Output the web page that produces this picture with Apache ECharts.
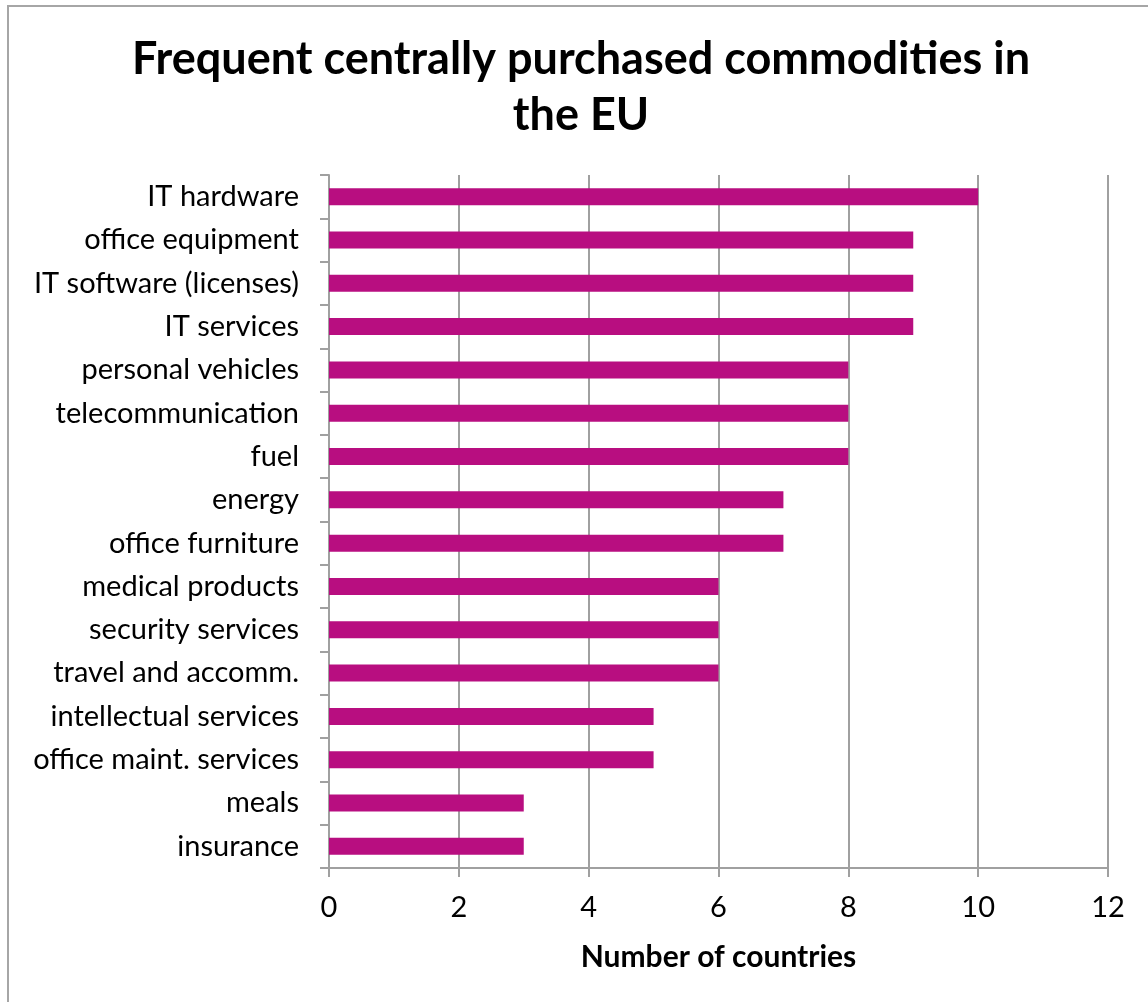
<!DOCTYPE html>
<html>
<head>
<meta charset="utf-8">
<script src="https://cdn.jsdelivr.net/npm/echarts@6/dist/echarts.min.js"></script>
<style>
html,body{margin:0;padding:0;background:#fff;}
#chart{width:1148px;height:1002px;}
</style>
</head>
<body>
<div id="chart"></div>
<script>
const categories = ["IT hardware","office equipment","IT software (licenses)","IT services","personal vehicles","telecommunication","fuel","energy","office furniture","medical products","security services","travel and accomm.","intellectual services","office maint. services","meals","insurance"];
const values = [10,9,9,9,8,8,8,7,7,6,6,6,5,5,3,3];
const titleText = "Frequent centrally purchased commodities in\nthe EU";
const xAxisName = "Number of countries";

const FONT = "Lato";
const chart = echarts.init(document.getElementById('chart'));
chart.setOption({
  animation: false,
  backgroundColor: '#fff',
  graphic: [{
    type: 'rect', shape: {x: 8, y: 6, width: 1300, height: 1200},
    style: {fill: 'none', stroke: '#A6A6A6', lineWidth: 2}, silent: true
  }],
  title: {
    text: titleText, left: 576, top: 26, textAlign: 'center',
    textStyle: {fontFamily: FONT, fontWeight: 'bold', fontSize: 45, lineHeight: 56, color: '#000'}
  },
  grid: {left: 329, right: 40, top: 175, bottom: 134, containLabel: false},
  xAxis: {
    type: 'value', min: 0, max: 12, interval: 2,
    name: xAxisName, nameLocation: 'middle', nameGap: 74,
    nameTextStyle: {fontFamily: FONT, fontWeight: 'bold', fontSize: 30, color: '#000'},
    axisLine: {show: true, lineStyle: {color: '#A0A0A0', width: 2}},
    axisTick: {show: true, length: 9, lineStyle: {color: '#A0A0A0', width: 2}},
    axisLabel: {fontFamily: FONT, fontSize: 29, color: '#000', margin: 25},
    splitLine: {show: true, lineStyle: {color: '#A0A0A0', width: 2}}
  },
  yAxis: {
    type: 'category', data: categories, inverse: true,
    axisLine: {show: true, lineStyle: {color: '#A0A0A0', width: 2}},
    axisTick: {show: true, length: 9, alignWithLabel: false, lineStyle: {color: '#A0A0A0', width: 2}},
    axisLabel: {fontFamily: FONT, fontSize: 29, color: '#000', margin: 30}
  },
  series: [{
    type: 'bar', data: values, barWidth: 17,
    itemStyle: {color: '#B80E80'}
  }]
});
</script>
</body>
</html>
